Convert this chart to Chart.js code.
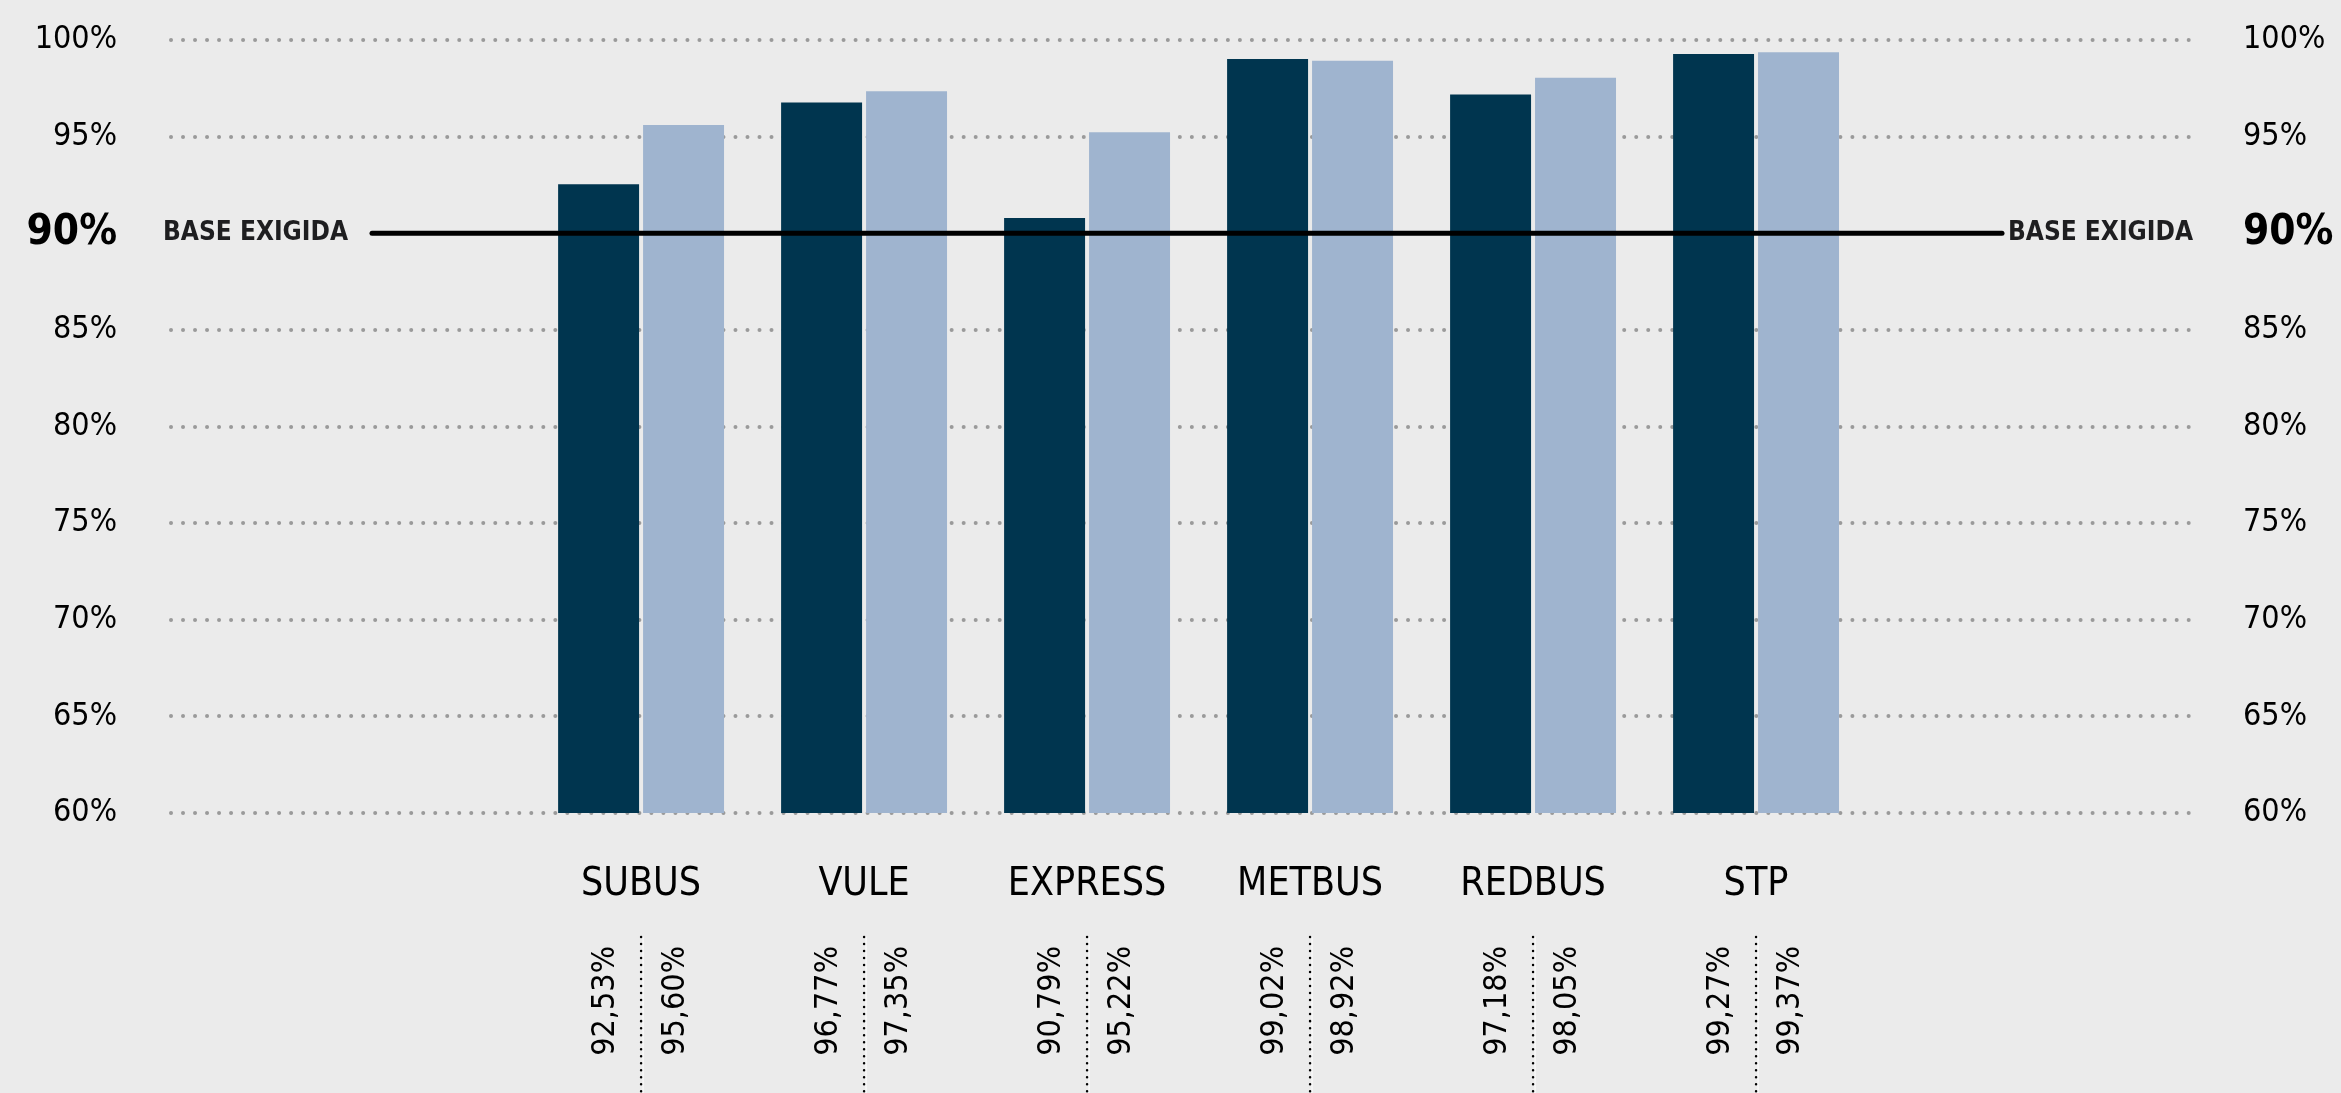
<!DOCTYPE html>
<html>
<head>
<meta charset="utf-8">
<script src="https://cdn.jsdelivr.net/npm/chart.js@4.4.1/dist/chart.umd.min.js"></script>
<style>
  html, body { margin: 0; padding: 0; background: #ebebeb; }
  #wrap { width: 2341px; height: 1093px; }
</style>
</head>
<body>
<div id="wrap"><canvas id="chart" width="2341" height="1093"></canvas></div>
<script>
// data
const categories = ['SUBUS', 'VULE', 'EXPRESS', 'METBUS', 'REDBUS', 'STP'];
const seriesA = [92.53, 96.77, 90.79, 99.02, 97.18, 99.27];
const seriesB = [95.60, 97.35, 95.22, 98.92, 98.05, 99.37];
const yMin = 60;
const yMax = 100;
const yStep = 5;
const baseLevel = 90;
const baseLabel = 'BASE EXIGIDA';

const FONT = "'Liberation Sans Narrow', 'DejaVu Sans Condensed', sans-serif";
const DARK = '#00354f';
const LIGHT = '#9fb4cf';
const BG = '#ebebeb';

Chart.defaults.font.family = FONT;
Chart.defaults.color = '#000';

function fmt(v) {
  return v.toFixed(2).replace('.', ',') + '%';
}

function tickFont(ctx) {
  if (ctx.tick && ctx.tick.value === baseLevel) return { size: 42, weight: 'bold' };
  return { size: 32 };
}

// keep the tick padding from pushing the plot area down
function fitY(width) {
  return (s) => {
    s.width = width;
    s.paddingTop = 0;
    s.paddingBottom = 0;
  };
}

// background + round caps so the dashed grid turns into dots
const backdrop = {
  id: 'backdrop',
  beforeDraw(chart) {
    const { ctx, width, height } = chart;
    ctx.fillStyle = BG;
    ctx.fillRect(0, 0, width, height);
    ctx.lineCap = 'round';
  }
};

// the 90% requirement line with its labels
const baseLine = {
  id: 'baseLine',
  afterDatasetsDraw(chart) {
    const { ctx } = chart;
    const y = chart.scales.y.getPixelForValue(baseLevel);
    ctx.save();
    ctx.setLineDash([]);
    ctx.strokeStyle = '#000';
    ctx.lineWidth = 5;
    ctx.lineCap = 'round';
    ctx.beginPath();
    ctx.moveTo(372, y);
    ctx.lineTo(2002, y);
    ctx.stroke();

    ctx.fillStyle = '#1e1e20';
    ctx.font = `bold 26px ${FONT}`;
    ctx.textBaseline = 'middle';
    ctx.textAlign = 'left';
    ctx.fillText(baseLabel, 163, y);
    ctx.textAlign = 'right';
    ctx.fillText(baseLabel, 2193, y);
    ctx.restore();
  }
};

// rotated value labels under each category
const valueLabels = {
  id: 'valueLabels',
  afterDraw(chart) {
    const { ctx } = chart;
    const xs = chart.scales.x;
    ctx.save();
    categories.forEach((c, i) => {
      const cx = xs.getPixelForValue(i);
      ctx.setLineDash([]);
      ctx.strokeStyle = '#ffffff';
      ctx.lineWidth = 1;
      ctx.beginPath();
      ctx.moveTo(cx + 2, 937);
      ctx.lineTo(cx + 2, 1093);
      ctx.stroke();
      ctx.setLineDash([0.01, 7]);
      ctx.lineCap = 'round';
      ctx.strokeStyle = '#000';
      ctx.lineWidth = 2.5;
      ctx.beginPath();
      ctx.moveTo(cx, 937);
      ctx.lineTo(cx, 1093);
      ctx.stroke();

      ctx.font = `32px ${FONT}`;
      ctx.fillStyle = '#000';
      [[seriesA[i], -35], [seriesB[i], 35]].forEach(([v, dx]) => {
        ctx.save();
        ctx.translate(cx + dx, 946);
        ctx.rotate(-Math.PI / 2);
        ctx.textAlign = 'right';
        ctx.textBaseline = 'middle';
        ctx.fillText(fmt(v), 0, 0);
        ctx.restore();
      });
    });
    ctx.restore();
  }
};

new Chart(document.getElementById('chart'), {
  type: 'bar',
  data: {
    datasets: [
      {
        label: 'A',
        data: seriesA.map((v, i) => ({ x: i, y: v })),
        backgroundColor: DARK,
        borderWidth: 0
      },
      {
        label: 'B',
        data: seriesB.map((v, i) => ({ x: i, y: v })),
        backgroundColor: LIGHT,
        borderWidth: 0
      }
    ]
  },
  options: {
    responsive: false,
    animation: false,
    devicePixelRatio: 1,
    categoryPercentage: 0.762,
    barPercentage: 0.953,
    layout: { padding: { top: 40, left: 0, right: 0, bottom: 0 } },
    plugins: { legend: { display: false }, tooltip: { enabled: false } },
    scales: {
      x: {
        type: 'linear',
        offset: false,
        min: -2.108,
        max: 6.946,
        grid: { display: false },
        border: { display: false },
        afterBuildTicks: (s) => { s.ticks = categories.map((_, i) => ({ value: i })); },
        afterFit: (s) => { s.height = 280; },
        ticks: {
          autoSkip: false,
          maxRotation: 0,
          padding: 40,
          font: { size: 39 },
          callback: (v) => categories[v] ?? ''
        }
      },
      y: {
        position: 'left',
        min: yMin,
        max: yMax,
        beginAtZero: false,
        afterFit: fitY(171),
        grid: {
          drawTicks: false,
          lineWidth: 4,
          color: (ctx) => (ctx.tick && ctx.tick.value === baseLevel) ? 'rgba(0,0,0,0)' : '#9a9a9a'
        },
        border: { display: false, dash: [0.01, 12] },
        ticks: {
          stepSize: yStep,
          padding: 54,
          font: tickFont,
          callback: (v) => v + '%'
        }
      },
      y2: {
        position: 'right',
        min: yMin,
        max: yMax,
        afterFit: fitY(151),
        grid: { drawOnChartArea: false, drawTicks: false },
        border: { display: false },
        ticks: {
          stepSize: yStep,
          padding: 53,
          font: tickFont,
          callback: (v) => v + '%'
        }
      }
    }
  },
  plugins: [backdrop, baseLine, valueLabels]
});
</script>
</body>
</html>
